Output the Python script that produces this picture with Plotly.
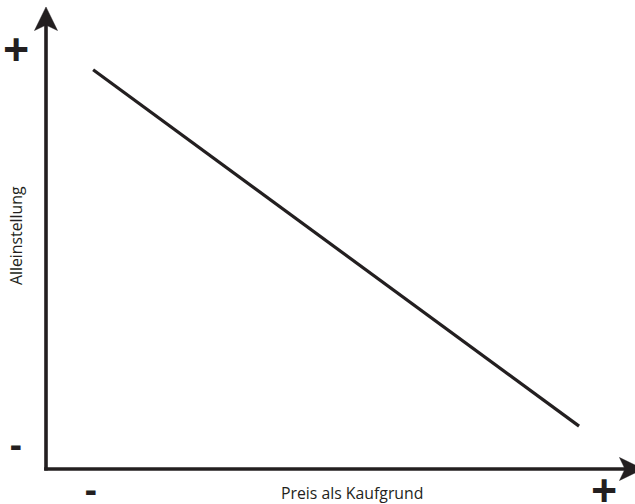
import plotly.graph_objects as go

# Data (axis units 0..10)
line_x = [0.80, 9.05]
line_y = [8.66, 0.93]
x_title = "Preis als Kaufgrund"
y_title = "Alleinstellung"
x_tick_labels = ["-", "+"]
y_tick_labels = ["-", "+"]

INK = "#231f20"
W, H = 635, 504
L, R, T, B = 46, 0, 8, 35

fig = go.Figure()
fig.add_trace(go.Scatter(x=line_x, y=line_y, mode="lines",
                         line=dict(color=INK, width=3.2), showlegend=False,
                         hoverinfo="skip"))

pw = W - L - R
ph = H - T - B
def px_x(p):
    return (p - L) / pw
def px_y(p):
    return (H - B - p) / ph

shapes = []
# axis lines
shapes.append(dict(type="line", xref="paper", yref="paper",
                   x0=px_x(46), y0=px_y(470.5), x1=px_x(46), y1=px_y(24),
                   line=dict(color=INK, width=3.6)))
shapes.append(dict(type="line", xref="paper", yref="paper",
                   x0=px_x(44.2), y0=px_y(469), x1=px_x(628), y1=px_y(469),
                   line=dict(color=INK, width=3.6)))
# arrowheads (slightly concave base)
def path(pts):
    s = "M " + " L ".join("%.5f,%.5f" % (px_x(a), px_y(b)) for a, b in pts) + " Z"
    return s
shapes.append(dict(type="path", xref="paper", yref="paper",
                   path=path([(46, 7), (57.5, 30.5), (46, 25), (34.5, 30.5)]),
                   fillcolor=INK, line=dict(color=INK, width=0.5)))
shapes.append(dict(type="path", xref="paper", yref="paper",
                   path=path([(643, 469), (619.5, 480.5), (625, 469), (619.5, 457.5)]),
                   fillcolor=INK, line=dict(color=INK, width=0.5)))

ann = []
plus_font = dict(family="Open Sans, sans-serif", size=46, color=INK)
minus_font = dict(family="Open Sans, sans-serif", size=36, color=INK)
# y-axis "-" and "+"
ann.append(dict(x=px_x(16), y=px_y(443), xref="paper", yref="paper", text="<b>%s</b>" % y_tick_labels[0],
                showarrow=False, font=minus_font, xanchor="center", yanchor="middle"))
ann.append(dict(x=px_x(16), y=px_y(48), xref="paper", yref="paper", text="<b>%s</b>" % y_tick_labels[1],
                showarrow=False, font=plus_font, xanchor="center", yanchor="middle"))
# x-axis "-" and "+"
ann.append(dict(x=px_x(91), y=px_y(489), xref="paper", yref="paper", text="<b>%s</b>" % x_tick_labels[0],
                showarrow=False, font=minus_font, xanchor="center", yanchor="middle"))
ann.append(dict(x=px_x(604), y=px_y(489), xref="paper", yref="paper", text="<b>%s</b>" % x_tick_labels[1],
                showarrow=False, font=plus_font, xanchor="center", yanchor="middle"))
# titles
title_font = dict(family="Open Sans, sans-serif", size=15.8, color=INK)
ann.append(dict(x=px_x(352), y=px_y(493), xref="paper", yref="paper", text=x_title,
                showarrow=False, font=title_font, xanchor="center", yanchor="middle"))
ann.append(dict(x=px_x(16), y=px_y(236), xref="paper", yref="paper", text=y_title,
                showarrow=False, font=title_font, xanchor="center", yanchor="middle",
                textangle=-90))

fig.update_layout(
    width=W, height=H,
    margin=dict(l=L, r=R, t=T, b=B),
    paper_bgcolor="white", plot_bgcolor="white",
    xaxis=dict(range=[0, 10], visible=False, fixedrange=True),
    yaxis=dict(range=[0, 10], visible=False, fixedrange=True),
    shapes=shapes,
    annotations=ann,
    showlegend=False,
)
fig.write_html("out.html", config={"displayModeBar": False},
               post_script="document.body.style.margin='0';document.body.style.overflow='hidden';")
